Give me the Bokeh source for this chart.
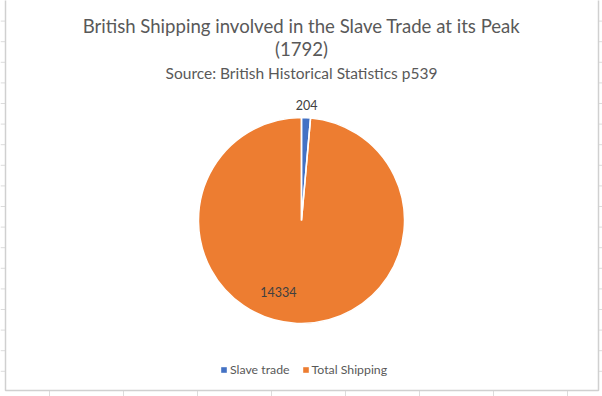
import numpy as np
from bokeh.plotting import figure
from bokeh.models import Range1d, ColumnDataSource, Legend, LegendItem, Label
from bokeh.embed import file_html
from bokeh.resources import INLINE
from bokeh.core.properties import value

# ---- data ----
categories = ["Slave trade", "Total Shipping"]
values = [204, 14334]
colors = ["#4472C4", "#ED7D31"]
title_line1 = "British Shipping involved in the Slave Trade at its Peak"
title_line2 = "(1792)"
subtitle = "Source: British Historical Statistics p539"

# ---- layout ----
W, H = 602, 396
FONT = "Lato"
TXT = "#595959"

def sy(y):  # screen y (from top) -> data y
    return H - y

p = figure(width=W, height=H, x_range=Range1d(0, W), y_range=Range1d(0, H),
           output_backend="svg", toolbar_location=None, min_border=0,
           x_axis_type=None, y_axis_type=None)
p.grid.visible = False
p.outline_line_color = None
p.background_fill_color = "white"
p.border_fill_color = "white"

# spreadsheet gridlines around chart area
GRID = "#dcdcdc"
hy = [sy(20.6 * k) for k in range(1, 19)]
p.segment(x0=[0] * len(hy), y0=hy, x1=[5] * len(hy), y1=hy, line_color=GRID, line_width=1)
p.segment(x0=[598] * len(hy), y0=hy, x1=[602] * len(hy), y1=hy, line_color=GRID, line_width=1)
vx = [49 + 74 * k for k in range(0, 8)]
p.segment(x0=vx, y0=[0] * len(vx), x1=vx, y1=[sy(390)] * len(vx), line_color=GRID, line_width=1)
# chart area border
p.line(x=[5, 5, 598, 598], y=[H + 2, sy(390), sy(390), H + 2], line_color="#d0d0d0", line_width=1.5)

# ---- pie ----
cx, cy, R = 301, sy(220), 103
vals = np.array(values, dtype=float)
frac = vals / vals.sum()
cum = np.concatenate([[0], np.cumsum(frac)[:-1]])
start = np.pi / 2 - 2 * np.pi * cum
end = start - 2 * np.pi * frac
src = ColumnDataSource(dict(start=start, end=end, color=colors, cat=categories, val=values))

fill_r = p.wedge(x=cx, y=cy, radius=R, start_angle="start", end_angle="end", direction="clock",
                 fill_color="color", line_color=None, source=src)
p.wedge(x=cx, y=cy, radius=R, start_angle="start", end_angle="end", direction="clock",
        fill_color=None, line_color="white", line_width=1.5, source=src)

# data labels (small slices outside, large inside; large label nudged like Excel's best fit)
mid = (start + end) / 2 - np.where(frac < 0.05, 0.0, 0.27)
lr = np.where(frac < 0.05, R + 13, 0.73 * R)
lsrc = ColumnDataSource(dict(x=cx + lr * np.cos(mid), y=cy + lr * np.sin(mid),
                             t=[str(v) for v in values]))
p.text(x="x", y="y", text="t", source=lsrc, text_align="center", text_baseline="middle",
       text_font=value(FONT), text_font_size="12.5px", text_color="#404040")

# ---- titles ----
p.add_layout(Label(x=301, y=sy(25), text=title_line1, text_align="center", text_baseline="middle",
                   text_font=FONT, text_font_size="18.6px", text_color=TXT))
p.add_layout(Label(x=301, y=sy(48), text=title_line2, text_align="center", text_baseline="middle",
                   text_font=FONT, text_font_size="18.6px", text_color=TXT))
p.add_layout(Label(x=301, y=sy(72), text=subtitle, text_align="center", text_baseline="middle",
                   text_font=FONT, text_font_size="15.5px", text_color=TXT))

# ---- legend ----
items = [LegendItem(label=c, renderers=[fill_r], index=i) for i, c in enumerate(categories)]
legend = Legend(items=items, orientation="horizontal", location=(220, sy(370) - 7),
                glyph_width=7, glyph_height=7, label_height=14, label_standoff=3,
                spacing=12, padding=0, margin=0, border_line_alpha=0, background_fill_alpha=0,
                label_text_font=FONT, label_text_font_size="12.3px", label_text_color=TXT)
p.add_layout(legend, "center")

open("out.html", "w").write(file_html(p, INLINE))
